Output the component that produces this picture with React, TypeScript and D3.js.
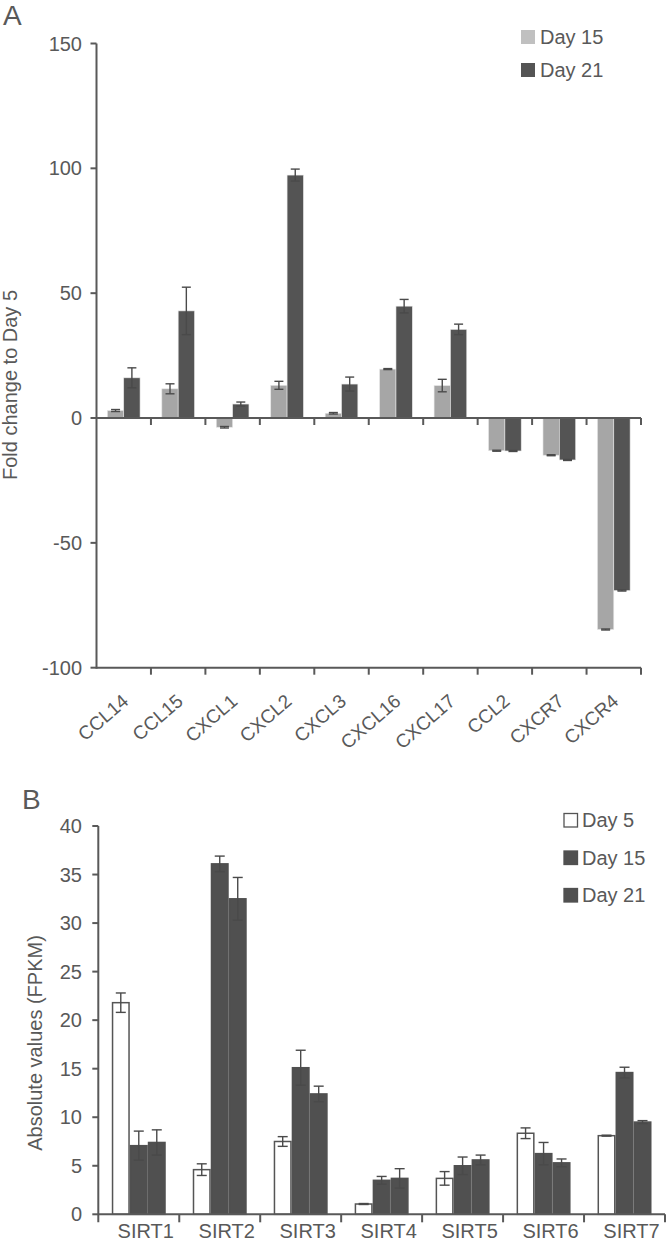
import React from "react";
import * as d3 from "d3";

// ---------- Panel A data ----------
const genesA = ["CCL14", "CCL15", "CXCL1", "CXCL2", "CXCL3", "CXCL16", "CXCL17", "CCL2", "CXCR7", "CXCR4"];
const seriesA = ["Day 15", "Day 21"];
const day15A = [3, 11.7, -3.7, 13.1, 1.9, 19.6, 13, -13.1, -14.9, -84.7];
const day15ErrA = [0.4, 2.0, 0.3, 1.6, 0.3, 0.2, 2.5, 0.2, 0.2, 0.2];
const day21A = [16.1, 42.9, 5.6, 97.3, 13.6, 44.8, 35.5, -13.2, -16.8, -69.1];
const day21ErrA = [4.0, 9.5, 0.8, 2.4, 2.8, 2.7, 2.1, 0.2, 0.2, 0.2];
const ticksA = [-100, -50, 0, 50, 100, 150];

// ---------- Panel B data ----------
const genesB = ["SIRT1", "SIRT2", "SIRT3", "SIRT4", "SIRT5", "SIRT6", "SIRT7"];
const seriesB = ["Day 5", "Day 15", "Day 21"];
const day5B = [21.8, 4.6, 7.5, 1.06, 3.7, 8.35, 8.1];
const day5ErrB = [1.0, 0.6, 0.5, 0.05, 0.7, 0.55, 0.05];
const day15B = [7.07, 36.1, 15.1, 3.5, 5.0, 6.25, 14.6];
const day15ErrB = [1.5, 0.8, 1.8, 0.4, 0.9, 1.15, 0.55];
const day21B = [7.4, 32.5, 12.4, 3.7, 5.6, 5.3, 9.5];
const day21ErrB = [1.3, 2.2, 0.8, 1.0, 0.5, 0.4, 0.15];
const ticksB = [0, 5, 10, 15, 20, 25, 30, 35, 40];

const AX = "#595959";
const FONT = "'Liberation Sans', Arial, sans-serif";

export default function App() {
  // Panel A scales
  const yA = d3.scaleLinear().domain([-100, 150]).range([667.7, 43.5]);
  const xA = d3.scaleBand<string>().domain(genesA).range([96.5, 641]);
  const bwA = xA.bandwidth();
  const x1A = d3.scaleBand<string>().domain(seriesA).range([bwA * 0.2, bwA * 0.8]);
  const dataA = [
    { s: seriesA[0], vals: day15A, errs: day15ErrA, fill: "#a6a6a6", legend: "#c0c0c0" },
    { s: seriesA[1], vals: day21A, errs: day21ErrA, fill: "#545454", legend: "#545454" },
  ];

  // Panel B scales
  const yB = d3.scaleLinear().domain([0, 40]).range([1214.3, 826]);
  const xB = d3.scaleBand<string>().domain(genesB).range([98.3, 665]);
  const bwB = xB.bandwidth();
  const x1B = d3.scaleBand<string>().domain(seriesB).range([bwB / 6, (bwB * 5) / 6]);
  const dataB = [
    { s: seriesB[0], vals: day5B, errs: day5ErrB, fill: "#ffffff", stroke: "#555555" },
    { s: seriesB[1], vals: day15B, errs: day15ErrB, fill: "#505050", stroke: "#505050" },
    { s: seriesB[2], vals: day21B, errs: day21ErrB, fill: "#505050", stroke: "#505050" },
  ];

  const errBar = (cx: number, y1: number, y2: number, key: string, capW: number) => (
    <g key={key} stroke="#4a4a4a" strokeWidth={1.4}>
      <line x1={cx} x2={cx} y1={y1} y2={y2} />
      <line x1={cx - capW / 2} x2={cx + capW / 2} y1={y1} y2={y1} />
      <line x1={cx - capW / 2} x2={cx + capW / 2} y1={y2} y2={y2} />
    </g>
  );

  const boundsA = [...genesA.map((g) => xA(g)!), xA.range()[1]];
  const boundsB = [...genesB.map((g) => xB(g)!), xB.range()[1]];

  return (
    <svg
      width={667}
      height={1256}
      style={{ position: "absolute", left: 0, top: 0, background: "#fff" }}
      fontFamily={FONT}
    >
      {/* ================= Panel A ================= */}
      <text x={3} y={25} fontSize={28} fill={AX}>A</text>

      {/* bars */}
      {dataA.map((d) =>
        genesA.map((g, i) => {
          const v = d.vals[i];
          const x = xA(g)! + x1A(d.s)!;
          const y = Math.min(yA(v), yA(0));
          const h = Math.abs(yA(v) - yA(0));
          return (
            <rect key={d.s + g} x={x} y={y} width={x1A.bandwidth()} height={h} fill={d.fill} stroke="#e6e6e6" strokeWidth={0.6} />
          );
        })
      )}
      {dataA.map((d) =>
        genesA.map((g, i) => {
          const v = d.vals[i];
          const e = d.errs[i];
          const cx = xA(g)! + x1A(d.s)! + x1A.bandwidth() / 2;
          return errBar(cx, yA(v + e), yA(v - e), "eA" + d.s + g, 9);
        })
      )}

      {/* y axis A */}
      <line x1={96.5} x2={96.5} y1={yA(150)} y2={yA(-100) + 1} stroke={AX} strokeWidth={2} />
      {ticksA.map((t) => (
        <g key={"tA" + t}>
          <line x1={90.5} x2={96.5} y1={yA(t)} y2={yA(t)} stroke={AX} strokeWidth={2} />
          <text x={82} y={yA(t)} dy="0.35em" textAnchor="end" fontSize={20} fill={AX}>{t}</text>
        </g>
      ))}
      {/* zero line and bottom line with category ticks */}
      {[0, -100].map((lv) => (
        <g key={"xl" + lv}>
          <line x1={96.5} x2={641} y1={yA(lv)} y2={yA(lv)} stroke={AX} strokeWidth={2} />
          {boundsA.slice(1).map((b, j) => (
            <line key={j} x1={b} x2={b} y1={yA(lv)} y2={yA(lv) + 7} stroke={AX} strokeWidth={2} />
          ))}
        </g>
      ))}
      {genesA.map((g) => {
        const cx = xA(g)! + bwA / 2 + 6;
        return (
          <text key={"lA" + g} transform={`translate(${cx},${703}) rotate(-41)`} textAnchor="end" fontSize={19} fill={AX}>
            {g}
          </text>
        );
      })}
      <text transform={`translate(17,385) rotate(-90)`} textAnchor="middle" fontSize={20} fill={AX}>
        Fold change to Day 5
      </text>

      {/* legend A */}
      {dataA.map((d, i) => (
        <g key={"lgA" + d.s}>
          <rect x={521} y={30 + i * 33} width={14} height={14} fill={d.legend} />
          <text x={540} y={43.5 + i * 33} fontSize={20} fill={AX}>{d.s}</text>
        </g>
      ))}

      {/* ================= Panel B ================= */}
      <text x={22} y={809} fontSize={28} fill={AX}>B</text>

      {dataB.map((d) =>
        genesB.map((g, i) => {
          const v = d.vals[i];
          const x = xB(g)! + x1B(d.s)!;
          return (
            <rect
              key={d.s + g}
              x={x + 0.75}
              y={yB(v)}
              width={x1B.bandwidth() - 1.5}
              height={yB(0) - yB(v)}
              fill={d.fill}
              stroke={d.stroke}
              strokeWidth={1.5}
            />
          );
        })
      )}
      {dataB.map((d) =>
        genesB.map((g, i) => {
          const v = d.vals[i];
          const e = d.errs[i];
          const cx = xB(g)! + x1B(d.s)! + x1B.bandwidth() / 2;
          return errBar(cx, yB(v + e), yB(v - e), "eB" + d.s + g, 10);
        })
      )}

      <line x1={98.3} x2={98.3} y1={yB(40)} y2={yB(0) + 8} stroke={AX} strokeWidth={2} />
      {ticksB.map((t) => (
        <g key={"tB" + t}>
          <line x1={92.3} x2={98.3} y1={yB(t)} y2={yB(t)} stroke={AX} strokeWidth={2} />
          <text x={82} y={yB(t)} dy="0.35em" textAnchor="end" fontSize={20} fill={AX}>{t}</text>
        </g>
      ))}
      <line x1={98.3} x2={665} y1={yB(0)} y2={yB(0)} stroke={AX} strokeWidth={2} />
      {boundsB.slice(1).map((b, j) => (
        <line key={"bB" + j} x1={b} x2={b} y1={yB(0)} y2={yB(0) + 8} stroke={AX} strokeWidth={2} />
      ))}
      {genesB.map((g) => (
        <text key={"lB" + g} x={xB(g)! + bwB / 2 + 7} y={1238} textAnchor="middle" fontSize={20} fill={AX}>
          {g}
        </text>
      ))}
      <text transform={`translate(42,1043) rotate(-90)`} textAnchor="middle" fontSize={20} fill={AX}>
        Absolute values (FPKM)
      </text>

      {/* legend B */}
      {dataB.map((d, i) => (
        <g key={"lgB" + d.s}>
          <rect
            x={564}
            y={813.5 + i * 37.5}
            width={13.5}
            height={13.5}
            fill={d.fill}
            stroke={d.stroke}
            strokeWidth={1.3}
          />
          <text x={582} y={827 + i * 37.5} fontSize={20} fill={AX}>{d.s}</text>
        </g>
      ))}
    </svg>
  );
}
